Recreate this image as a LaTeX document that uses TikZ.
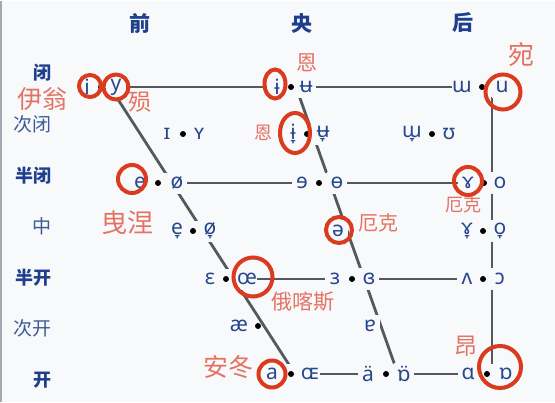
\documentclass[tikz,border=0pt]{standalone}
\usepackage{fontspec}
\usepackage{xcolor}
\usetikzlibrary{shapes.geometric}
\setmainfont{Noto Sans}
\newfontfamily\cjk{Noto Sans CJK SC}
\definecolor{chart-bg}{HTML}{F8F9FA}
\definecolor{chart-edge}{HTML}{A2A9B1}
\definecolor{chart-line}{HTML}{54595D}
\definecolor{vowel-blue}{HTML}{27488E}
\definecolor{head-blue}{HTML}{1D3F8E}
\definecolor{label-blue}{HTML}{3C5A98}
\definecolor{ring-red}{HTML}{DA3A1E}
\definecolor{note-red}{HTML}{E47263}
\tikzset{
    vowel/.style = {fill=chart-bg, text=vowel-blue, inner sep=0pt, minimum width=20pt, minimum height=22pt, font=\fontsize{21}{21}\selectfont},
    pair-dot/.style = {fill=chart-bg, inner sep=0pt, minimum width=28pt, minimum height=20pt,
        path picture={\fill[black] (path picture bounding box.center) circle (3pt);}},
    lone-dot/.style = {circle, fill=black, inner sep=0pt, minimum size=6pt},
    frame-line/.style = {draw=chart-line, line width=2.8pt},
    col-head/.style = {text=head-blue, font=\cjk\bfseries\fontsize{21}{21}\selectfont},
    row-head/.style = {anchor=east, text=head-blue, font=\cjk\bfseries\fontsize{18}{18}\selectfont},
    row-sub/.style = {anchor=east, text=label-blue, font=\cjk\fontsize{19}{19}\selectfont},
    ring/.style = {draw=ring-red, line width=4pt, circle, inner sep=0pt},
    oval-ring/.style = {draw=ring-red, line width=4pt, ellipse, inner sep=0pt},
    note/.style = {text=note-red, inner sep=0pt, font=\cjk\fontsize{#1}{#1}\selectfont},
}

\begin{document}
\begin{tikzpicture}[x=1pt, y=-1pt]
\fill[chart-bg] (0,0) rectangle (555,401);
\draw[chart-edge, line width=2pt] (1,0) -- (1,401);

% column and row headings
\node[col-head] (front) at (140,22) {前};
\node[col-head] (central) at (302,22) {央};
\node[col-head] (back) at (463,22) {后};
\node[row-head] (close) at (55,72) {闭};
\node[row-sub] (near-close) at (55,123) {次闭};
\node[row-head] (close-mid) at (55,175) {半闭};
\node[row-sub] (mid) at (55,225) {中};
\node[row-head] (open-mid) at (55,277) {半开};
\node[row-sub] (near-open) at (55,327) {次开};
\node[row-head] (open) at (55,379) {开};

% trapezoid
\coordinate (front-top) at (110,86);
\coordinate (front-bot) at (295,373);
\coordinate (central-top) at (296,86);
\coordinate (central-bot) at (398,373);
\coordinate (back-top) at (492,86);
\coordinate (back-bot) at (492,373);
\coordinate (front-cm) at (172,182);
\coordinate (back-cm) at (492,182);
\coordinate (front-om) at (234,278);
\coordinate (back-om) at (492,278);
\draw[frame-line] (front-top) -- (back-top);
\draw[frame-line] (front-cm) -- (back-cm);
\draw[frame-line] (front-om) -- (back-om);
\draw[frame-line] (front-bot) -- (back-bot);
\draw[frame-line] (front-top) -- (front-bot);
\draw[frame-line] (central-top) -- (central-bot);
\draw[frame-line] (back-top) -- (back-bot);

% dots
\node[pair-dot] (d-1f) at (101,86) {};
\node[pair-dot] (d-1c) at (291,86) {};
\node[pair-dot] (d-1b) at (482,86) {};
\node[pair-dot] (d-2f) at (183,133) {};
\node[pair-dot] (d-2c) at (307,133) {};
\node[pair-dot] (d-2b) at (432,133) {};
\node[pair-dot] (d-3f) at (158,182) {};
\node[pair-dot] (d-3c) at (319,182) {};
\node[pair-dot] (d-3b) at (484,182) {};
\node[pair-dot] (d-4f) at (193,230) {};
\node[pair-dot] (d-4b) at (483,230) {};
\node[pair-dot] (d-5f) at (226,278) {};
\node[pair-dot] (d-5c) at (352,278) {};
\node[pair-dot] (d-5b) at (483,278) {};
\node[lone-dot] (d-6f) at (258,325) {};
\node[pair-dot] (d-7f) at (291,373) {};
\node[pair-dot] (d-7c) at (386,373) {};
\node[pair-dot] (d-7b) at (487,373) {};

% vowels
\node[vowel] (v-i) at (87,86) {i};
\node[vowel] (v-y) at (116,86) {y};
\node[vowel] (v-bar-i) at (277,86) {ɨ};
\node[vowel] (v-bar-u) at (306,86) {ʉ};
\node[vowel] (v-turn-m) at (462,86) {ɯ};
\node[vowel] (v-u) at (502,86) {u};
\node[vowel] (v-cap-i) at (167,133) {ɪ};
\node[vowel] (v-cap-y) at (199,133) {ʏ};
\node[vowel] (v-low-bar-i) at (293,133) {ɨ̞};
\node[vowel] (v-low-bar-u) at (323,133) {ʉ̞};
\node[vowel] (v-low-turn-m) at (412,133) {ɯ̞};
\node[vowel] (v-upsilon) at (449,133) {ʊ};
\node[vowel] (v-e) at (140,182) {e};
\node[vowel] (v-slash-o) at (177,182) {ø};
\node[vowel] (v-rev-e) at (302,182) {ɘ};
\node[vowel] (v-bar-o) at (337,182) {ɵ};
\node[vowel] (v-rams-horn) at (468,182) {ɤ};
\node[vowel] (v-o) at (500,182) {o};
\node[vowel] (v-low-e) at (177,230) {e̞};
\node[vowel] (v-low-slash-o) at (210,230) {ø̞};
\node[vowel] (v-schwa) at (338,230) {ə};
\node[vowel] (v-low-rams-horn) at (467,230) {ɤ̞};
\node[vowel] (v-low-o) at (500,230) {o̞};
\node[vowel] (v-epsilon) at (210,278) {ɛ};
\node[vowel] (v-oe) at (247,278) {œ};
\node[vowel] (v-rev-epsilon) at (335,278) {ɜ};
\node[vowel] (v-closed-epsilon) at (369,278) {ɞ};
\node[vowel] (v-turn-v) at (467,278) {ʌ};
\node[vowel] (v-open-o) at (500,278) {ɔ};
\node[vowel] (v-ae) at (239,325) {æ};
\node[vowel] (v-turn-a) at (370,325) {ɐ};
\node[vowel] (v-a) at (272,373) {a};
\node[vowel] (v-cap-oe) at (310,373) {ɶ};
\node[vowel] (v-cent-a) at (368,373) {ä};
\node[vowel] (v-cent-turn-alpha) at (404,373) {ɒ̈};
\node[vowel] (v-alpha) at (468,373) {ɑ};
\node[vowel] (v-turn-alpha) at (506,373) {ɒ};

% red marks
\node[ring, minimum size=22pt] (r-i) at (90,85) {};
\node[ring, minimum size=25pt] (r-y) at (116,86) {};
\node[oval-ring, minimum width=21pt, minimum height=29pt] (r-bar-i) at (275,83) {};
\node[oval-ring, minimum width=30pt, minimum height=40pt] (r-low-bar-i) at (295,132) {};
\node[ring, minimum size=28pt] (r-e) at (132,178) {};
\node[ring, minimum size=28pt] (r-rams-horn) at (468,180) {};
\node[ring, minimum size=26pt] (r-schwa) at (339,229) {};
\node[ring, minimum size=39pt] (r-oe) at (253,276) {};
\node[ring, minimum size=27pt] (r-a) at (272,373) {};
\node[ring, minimum size=42pt] (r-turn-alpha) at (500,366) {};
\node[ring, minimum size=35pt] (r-u) at (503,91) {};

\node[note=25] (n-i) at (42,98) {伊翁};
\node[note=23] (n-y) at (140,101) {殒};
\node[note=21] (n-bar-i) at (307,62) {恩};
\node[note=18] (n-low-bar-i) at (263,132) {恩};
\node[note=26] (n-e) at (127,222) {曳涅};
\node[note=18] (n-rams-horn) at (463,204) {厄克};
\node[note=20] (n-schwa) at (378,222) {厄克};
\node[note=21] (n-oe) at (303,301) {俄喀斯};
\node[note=25] (n-a) at (228,366) {安冬};
\node[note=23] (n-turn-alpha) at (466,345) {昂};
\node[note=26] (n-u) at (521,54) {宛};
\end{tikzpicture}
\end{document}
